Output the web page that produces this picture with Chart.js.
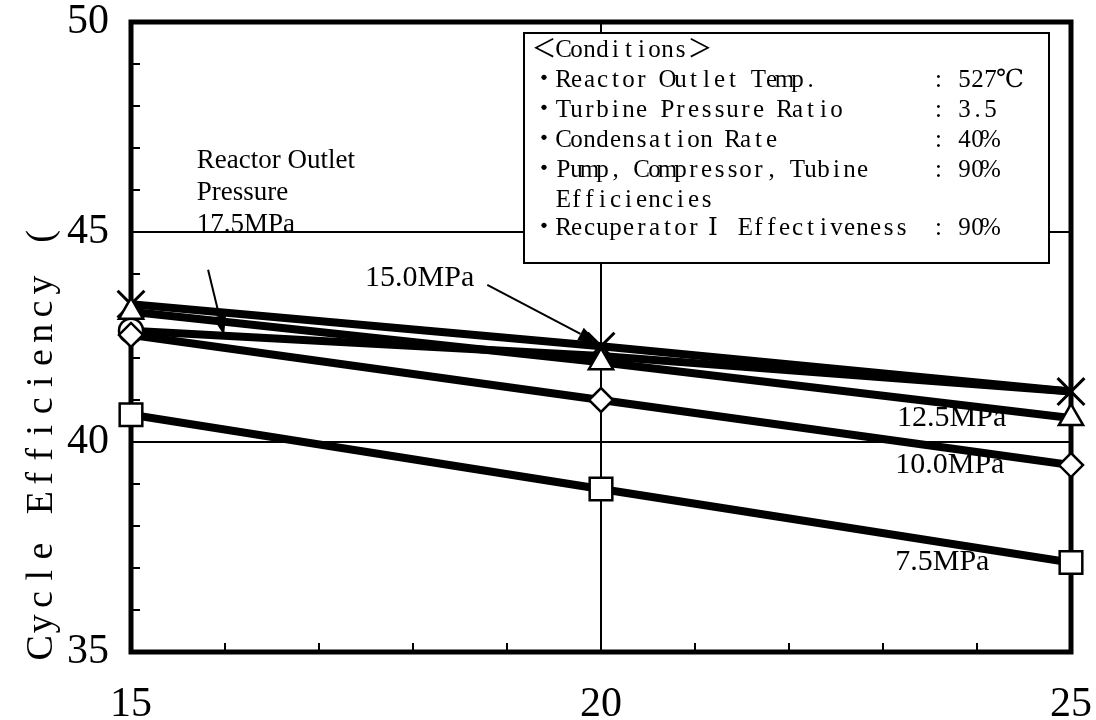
<!DOCTYPE html>
<html>
<head>
<meta charset="utf-8">
<script src="https://cdn.jsdelivr.net/npm/chart.js@4.4.0/dist/chart.umd.min.js"></script>
<style>
  html, body { margin: 0; padding: 0; background: #fff; }
</style>
</head>
<body>
<canvas id="grafico" width="1096" height="720"></canvas>
<script>
/* ==============================================
    DADOS
   ============================================== */
const temperaturas = [15, 20, 25];
const ticksY = [35, 40, 45, 50];
const ticksX = [15, 20, 25];

const efic75  = [40.65, 38.88, 37.13];
const efic100 = [42.55, 41.00, 39.45];
const efic125 = [43.10, 41.90, 40.57];
const efic150 = [43.28, 42.28, 41.20];
const efic175 = [42.65, 42.05, 41.20];

const rotulos = ['7.5MPa', '10.0MPa', '12.5MPa', '15.0MPa', '17.5MPa'];

const tituloY = 'Cycle Efficiency (';

const condicoes = [
    ['＜Conditions＞', ''],
    ['・Reactor Outlet Temp.', ': 527℃'],
    ['・Turbine Pressure Ratio', ': 3.5'],
    ['・Condensation Rate', ': 40%'],
    ['・Pump, Compressor, Tubine', ': 90%'],
    ['  Efficiencies', ''],
    ['・RecuperatorⅠ Effectiveness', ': 90%']
];

const SERIF = '"Liberation Serif", "DejaVu Serif", "Noto Sans CJK JP", serif';

/* ==============================================
    SERIES (linha + marcador)
   ============================================== */
const series = [
    { valores: efic75,  estilo: 'rect',     raio: 16, borda: 2.5 },
    { valores: efic100, estilo: 'rectRot',  raio: 12, borda: 2.5 },
    { valores: efic125, estilo: 'triangle', raio: 14, borda: 2.5 },
    { valores: efic150, estilo: 'crossRot', raio: 19, borda: 3 },
    { valores: efic175, estilo: 'circle',   raio: [12, 0, 0], borda: 2.5 }
];

const pontos = v => temperaturas.map((t, i) => ({ x: t, y: v[i] }));

const dsLinhas = series.map(s => ({
    data: pontos(s.valores),
    borderColor: '#000',
    borderWidth: 8,
    pointRadius: 0,
    tension: 0,
    order: 3
}));

const dsMarcadores = series.map(s => ({
    data: pontos(s.valores),
    showLine: false,
    pointStyle: s.estilo,
    pointRadius: s.raio,
    pointHoverRadius: s.raio,
    pointBackgroundColor: '#fff',
    pointBorderColor: '#000',
    pointBorderWidth: s.borda,
    clip: false,
    order: 1
}));

/* ==============================================
    PLUGINS DE DESENHO
   ============================================== */
// texto em celulas de largura fixa (largura dupla para CJK)
function textoMono(ctx, str, x, y, cel) {
    let cx = x;
    for (const ch of str) {
        const w = ch.charCodeAt(0) > 0xff ? cel * 2 : cel;
        if (ch !== ' ') ctx.fillText(ch, cx + w / 2, y);
        cx += w;
    }
}

function seta(ctx, x1, y1, x2, y2) {
    const ang = Math.atan2(y2 - y1, x2 - x1);
    const c = Math.cos(ang), s = Math.sin(ang);
    const L = 20, W = 7;
    ctx.lineWidth = 2;
    ctx.beginPath();
    ctx.moveTo(x1, y1);
    ctx.lineTo(x2 - L * c, y2 - L * s);
    ctx.stroke();
    ctx.beginPath();
    ctx.moveTo(x2, y2);
    ctx.lineTo(x2 - L * c + W * s, y2 - L * s - W * c);
    ctx.lineTo(x2 - L * c - W * s, y2 - L * s + W * c);
    ctx.closePath();
    ctx.fill();
}

const molduraPlugin = {
    id: 'moldura',
    beforeDatasetsDraw(chart) {
        const { ctx, chartArea: a, scales: { x, y } } = chart;
        ctx.save();
        ctx.strokeStyle = '#000';
        ctx.lineWidth = 2;
        ctx.beginPath();
        // marcas menores para dentro
        y.ticks.forEach(t => {
            if (t.value % 5 === 0) return;
            const py = y.getPixelForValue(t.value);
            ctx.moveTo(a.left, py);
            ctx.lineTo(a.left + 9, py);
        });
        x.ticks.forEach(t => {
            if (t.value % 5 === 0) return;
            const px = x.getPixelForValue(t.value);
            ctx.moveTo(px, a.bottom);
            ctx.lineTo(px, a.bottom - 9);
        });
        ctx.stroke();
        ctx.lineWidth = 5;
        ctx.strokeRect(a.left, a.top, a.right - a.left, a.bottom - a.top);
        ctx.restore();
    }
};

const anotacoesPlugin = {
    id: 'anotacoes',
    afterDraw(chart) {
        const { ctx, scales: { x, y } } = chart;
        const px = v => x.getPixelForValue(v);
        const py = v => y.getPixelForValue(v);
        ctx.save();
        ctx.fillStyle = '#000';
        ctx.strokeStyle = '#000';

        // titulo do eixo y
        ctx.save();
        ctx.translate(42, 660);
        ctx.rotate(-Math.PI / 2);
        ctx.font = '38px ' + SERIF;
        ctx.textAlign = 'center';
        ctx.textBaseline = 'middle';
        textoMono(ctx, tituloY, 0, 0, 24.2);
        ctx.restore();

        // quadro de condicoes
        const bx = 524, by = 33, bw = 525, bh = 230;
        ctx.fillStyle = '#fff';
        ctx.fillRect(bx, by, bw, bh);
        ctx.lineWidth = 2;
        ctx.strokeRect(bx, by, bw, bh);
        ctx.fillStyle = '#000';
        ctx.font = '25px ' + SERIF;
        ctx.textAlign = 'center';
        ctx.textBaseline = 'middle';
        const linhasY = [50, 80, 110, 140, 170, 200, 228];
        condicoes.forEach((c, i) => {
            textoMono(ctx, c[0], 531, linhasY[i], 13);
            if (c[1]) textoMono(ctx, c[1], 932, linhasY[i], 13);
        });

        // rotulos das curvas
        ctx.textAlign = 'left';
        ctx.textBaseline = 'middle';
        ctx.font = '27px ' + SERIF;
        ctx.fillText('Reactor Outlet', px(15.70), py(46.69));
        ctx.fillText('Pressure', px(15.70), py(45.94));
        ctx.fillText(rotulos[4], px(15.70), py(45.16));
        ctx.font = '30px ' + SERIF;
        ctx.fillText(rotulos[3], px(17.49), py(43.91));
        ctx.fillText(rotulos[2], px(23.15), py(efic125[2]));
        ctx.fillText(rotulos[1], px(23.13), py(efic100[2]));
        ctx.fillText(rotulos[0], px(23.13), py(efic75[2]));

        seta(ctx, px(15.82), py(44.10), px(15.99), py(42.54));
        seta(ctx, px(18.79), py(43.74), px(19.97), py(42.35));
        ctx.restore();
    }
};

/* ==============================================
    GRAFICO
   ============================================== */
const ctxGrafico = document.getElementById('grafico').getContext('2d');
new Chart(ctxGrafico, {
    type: 'line',
    data: { datasets: [...dsLinhas, ...dsMarcadores] },
    options: {
        responsive: false,
        animation: false,
        devicePixelRatio: 1,
        layout: { padding: { top: 17, right: 25, left: 0, bottom: 0 } },
        plugins: { legend: { display: false }, tooltip: { enabled: false } },
        scales: {
            x: {
                type: 'linear',
                min: ticksX[0],
                max: ticksX[ticksX.length - 1],
                border: { display: false },
                grid: {
                    drawTicks: false,
                    lineWidth: 2,
                    color: c => (c.tick && c.tick.value === ticksX[1]) ? '#000' : 'rgba(0,0,0,0)'
                },
                ticks: {
                    stepSize: 1,
                    autoSkip: false,
                    maxRotation: 0,
                    padding: 28,
                    color: '#000',
                    font: { family: SERIF, size: 42 },
                    callback: v => ticksX.includes(v) ? String(v) : ''
                },
                afterFit: s => { s.height = 68; s.paddingLeft = 0; s.paddingRight = 0; }
            },
            y: {
                type: 'linear',
                min: ticksY[0],
                max: ticksY[ticksY.length - 1],
                border: { display: false },
                grid: {
                    drawTicks: false,
                    lineWidth: 2,
                    color: c => (c.tick && (c.tick.value === ticksY[1] || c.tick.value === ticksY[2])) ? '#000' : 'rgba(0,0,0,0)'
                },
                ticks: {
                    stepSize: 1,
                    autoSkip: false,
                    padding: 22,
                    color: '#000',
                    font: { family: SERIF, size: 42 },
                    callback: v => ticksY.includes(v) ? String(v) : ''
                },
                afterFit: s => { s.width = 131; s.paddingTop = 0; s.paddingBottom = 0; }
            }
        }
    },
    plugins: [molduraPlugin, anotacoesPlugin]
});
</script>
</body>
</html>
